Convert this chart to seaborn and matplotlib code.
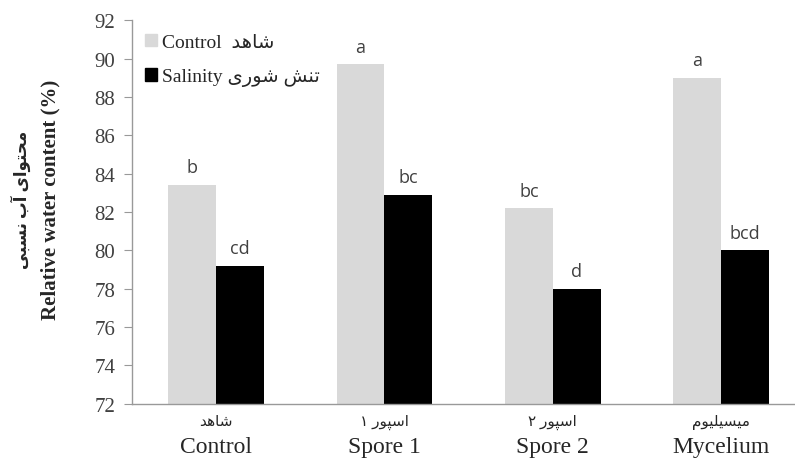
import pandas as pd
import matplotlib
matplotlib.use('Agg')
import matplotlib.pyplot as plt
import seaborn as sns
from matplotlib.patches import Patch

# Persian strings are written in visual order with presentation forms,
# since matplotlib does no Arabic shaping
fa_control = '\uFEAA\uFEEB\uFE8E\uFEB7'                       # شاهد
fa_salinity = '\uFBFC\uFEAD\uFEEE\uFEB7 \uFEB6\uFEE8\uFE97'  # تنش شوری
fa_spore1 = '\u06F1 \uFEAD\uFEEE\uFB59\uFEB3\uFE8D'          # اسپور ۱
fa_spore2 = '\u06F2 \uFEAD\uFEEE\uFB59\uFEB3\uFE8D'          # اسپور ۲
fa_mycelium = '\uFEE1\uFEEE\uFBFF\uFEE0\uFBFF\uFEB4\uFBFF\uFEE3'  # میسیلیوم
fa_ylabel = ('\uFBFD\uFE92\uFEB4\uFEE7 \uFE8F\uFE81 '
             '\uFBFC\uFE8D\uFEEE\uFE98\uFEA4\uFEE3')          # محتوای آب نسبی

treatments = ['Control', 'Spore 1', 'Spore 2', 'Mycelium']
treatments_fa = [fa_control, fa_spore1, fa_spore2, fa_mycelium]
control_rwc = [83.4, 89.7, 82.2, 89.0]
salinity_rwc = [79.2, 82.9, 78.0, 80.0]
control_letters = ['b', 'a', 'bc', 'a']
salinity_letters = ['cd', 'bc', 'd', 'bcd']

df = pd.DataFrame({
    'treatment': treatments * 2,
    'condition': ['Control'] * 4 + ['Salinity'] * 4,
    'rwc': control_rwc + salinity_rwc,
})

serif = ['Liberation Serif', 'DejaVu Sans']
grey_bar = '#d9d9d9'

sns.set_style('white')
fig = plt.figure(figsize=(7.95, 4.6), dpi=100)
ax = fig.add_axes([0.166, 0.12, 0.847, 0.834])

sns.barplot(data=df, x='treatment', y='rwc', hue='condition',
            palette=[grey_bar, 'black'], width=0.57, gap=0,
            saturation=1, linewidth=0, ax=ax, legend=False)

ax.set_ylim(72, 92)
ax.set_xlim(-0.5, 3.5)
ax.set_yticks(range(72, 93, 2))
ax.set_yticklabels([str(v) for v in range(72, 93, 2)], family=serif,
                   fontsize=15, color='#404040')
ax.set_xticks(range(4))
ax.set_xticklabels(treatments, family=serif, fontsize=17, color='#262626')
ax.set_xticks([-0.5, 0.5, 1.5, 2.5, 3.5], minor=True)
ax.tick_params(axis='x', which='major', length=0, pad=23)
ax.tick_params(axis='x', which='minor', length=4, color='#999999')
ax.tick_params(axis='y', length=6, color='#999999', pad=6, left=True)
ax.set_xlabel('')
ax.set_ylabel('')

for side in ['top', 'right']:
    ax.spines[side].set_visible(False)
for side in ['left', 'bottom']:
    ax.spines[side].set_color('#999999')
    ax.spines[side].set_linewidth(1)

# Persian category names above the English ones
for i, name in enumerate(treatments_fa):
    ax.text(i, -0.045, name, transform=ax.get_xaxis_transform(),
            ha='center', va='center', fontsize=11, family=serif,
            color='#262626')

# significance letters
for container, letters in zip(ax.containers, [control_letters, salinity_letters]):
    for bar, letter in zip(container, letters):
        ax.text(bar.get_x() + bar.get_width() / 2, bar.get_height() + 0.45,
                letter, ha='center', va='bottom', fontsize=13,
                family='Open Sans', color='#404040')

handles = [Patch(color=grey_bar), Patch(color='black')]
ax.legend(handles, ['Control  ' + fa_control, 'Salinity ' + fa_salinity],
          loc='upper left', bbox_to_anchor=(0.008, 0.985), borderaxespad=0,
          frameon=False, prop={'family': serif, 'size': 14},
          handlelength=0.6, handleheight=0.6, handletextpad=0.25,
          labelspacing=0.9)

fig.text(0.063, 0.565, 'Relative water content (%)', rotation=90,
         ha='center', va='center', fontsize=15, fontweight='bold',
         family=serif)
fig.text(0.026, 0.565, fa_ylabel, rotation=90, ha='center', va='center',
         fontsize=12, fontweight='bold', family=serif)

fig.savefig('out.png', dpi=100)
